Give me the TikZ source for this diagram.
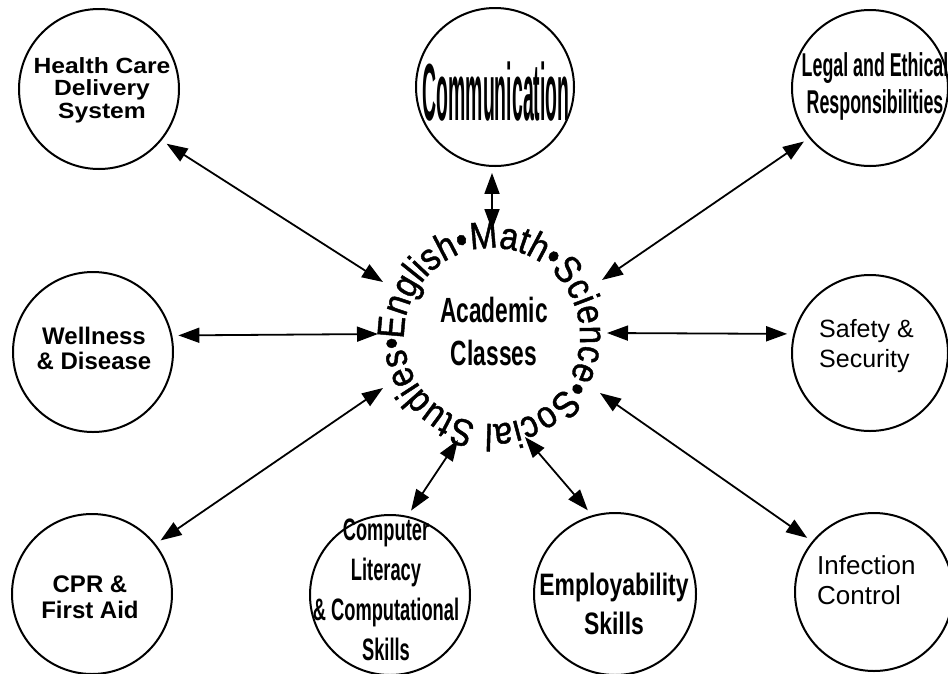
\documentclass[tikz,border=0pt]{standalone}
\usepackage{fontspec}
\setmainfont{Liberation Sans}
\newfontfamily\fwide[FakeStretch=1.12]{Liberation Sans}
\newfontfamily\fcomm[FakeStretch=0.24]{Liberation Sans}
\newfontfamily\flegal[FakeStretch=0.54]{Liberation Sans}
\newfontfamily\fcomp[FakeStretch=0.59]{Liberation Sans}
\newfontfamily\facad[FakeStretch=0.65]{Liberation Sans}
\newfontfamily\femp[FakeStretch=0.74]{Liberation Sans}
\newfontfamily\fring[FakeStretch=0.87,FakeBold=1.2]{Liberation Sans}
\newcommand\ringfont{\fring\fontsize{38}{38}\selectfont}
\usetikzlibrary{arrows.meta,decorations.text}
\begin{document}
\begin{tikzpicture}[x=1pt,y=-1pt,
  circ/.style={circle, draw, line width=2pt, inner sep=0pt, outer sep=7pt, minimum size=#1},
  circ/.default=160pt,
  lbl/.style={inner sep=0pt, align=center},
  lbll/.style={inner sep=0pt, align=left, anchor=west},
  arr/.style={line width=1.8pt, {Triangle[length=21pt,width=15pt]}-{Triangle[length=21pt,width=15pt]}}]
\clip (0,0) rectangle (948,673);
\fill[white] (0,0) rectangle (948,673);

% outer circles
\node[circ] (hc) at (99,89) {};
\node[circ=158pt] (comm) at (495,87) {};
\node[circ=156pt] (le) at (870,88) {};
\node[circ] (wd) at (93,352) {};
\node[circ=156pt] (ss) at (870,353) {};
\node[circ] (cpr) at (92,594) {};
\node[circ] (cl) at (390,595) {};
\node[circ=162pt] (es) at (615,594) {};
\node[circ=158pt] (ic) at (874,592) {};

% labels
\node[lbl, font=\fwide\bfseries\fontsize{22}{22.5}\selectfont] (hct) at (102,90) {Health Care\\Delivery\\System};
\node[lbl, font=\fcomm\bfseries\fontsize{81}{81}\selectfont] (commt) at (496,92) {Communication};
\node[lbl, font=\flegal\bfseries\fontsize{33}{37}\selectfont] (let) at (875,86) {Legal and Ethical\\Responsibilities};
\node[lbl, font=\bfseries\fontsize{24}{25}\selectfont] (wdt) at (94,348) {Wellness\\\& Disease};
\node[lbll, font=\fontsize{25}{30}\selectfont] (sst) at (819,346) {Safety \&\\Security};
\node[lbl, font=\bfseries\fontsize{24}{26}\selectfont] (cprt) at (90,597) {CPR \&\\First Aid};
\node[lbl, font=\fcomp\bfseries\fontsize{31}{40}\selectfont] (clt) at (386,590) {Computer\\Literacy\\\& Computational\\Skills};
\node[lbl, font=\femp\bfseries\fontsize{31}{39}\selectfont] (est) at (614,604) {Employability\\Skills};
\node[lbll, font=\fontsize{26}{30}\selectfont] (ict) at (817,580) {Infection\\Control};
\node[lbl, font=\facad\bfseries\fontsize{35}{43}\selectfont] (acad) at (494,331) {Academic\\Classes};

% ring text
\begin{scope}[shift={(492,336)}, y=1pt]
\path[decorate, decoration={text along path, text={|\ringfont|English•Math•Science•Social Studies•}, text align=left}]
  (182:88) arc[start angle=182, end angle=-182, radius=88];
\end{scope}

% inner ends
\coordinate (iHC) at (383,282);
\coordinate (iCom) at (492,230);
\coordinate (iLE) at (602,280);
\coordinate (iWD) at (378,334);
\coordinate (iSS) at (607,333);
\coordinate (iCPR) at (383,388);
\coordinate (iCL) at (458,440);
\coordinate (iES) at (525,437);
\coordinate (iIC) at (600,393);

\draw[arr] (hc.-39) -- (iHC);
\draw[arr] (comm.-92) -- (iCom);
\draw[arr] (le.219) -- (iLE);
\draw[arr] (wd.11) -- (iWD);
\draw[arr] (ss.167) -- (iSS);
\draw[arr] (cpr.38) -- (iCPR);
\draw[arr] (cl.76) -- (iCL);
\draw[arr] (es.108) -- (iES);
\draw[arr] (ic.141) -- (iIC);
\end{tikzpicture}
\end{document}
